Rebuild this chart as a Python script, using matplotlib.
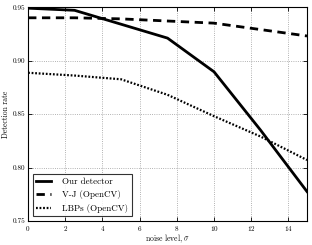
import matplotlib
matplotlib.use("Agg")
import matplotlib.pyplot as plt

plt.rcParams['font.family'] = 'serif'
plt.rcParams['font.serif'] = ['cmr10', 'DejaVu Serif']
plt.rcParams['mathtext.fontset'] = 'cm'
plt.rcParams['axes.formatter.use_mathtext'] = True

noise = [0, 2.5, 5, 7.5, 10, 12.5, 15]
ours = [0.949, 0.947, 0.934, 0.921, 0.8895, 0.835, 0.7775]
vj = [0.940, 0.940, 0.939, 0.937, 0.935, 0.929, 0.923]
lbp = [0.8886, 0.886, 0.8825, 0.868, 0.848, 0.829, 0.807]
labels = ['Our detector', 'V-J (OpenCV)', 'LBPs (OpenCV)']
xticks = [0, 2, 4, 6, 8, 10, 12, 14]
yticks = [0.75, 0.80, 0.85, 0.90, 0.95]

fig = plt.figure(figsize=(3.12, 2.45), dpi=100)
ax = fig.add_axes([0.09, 0.098, 0.894, 0.873])
ax.plot(noise, ours, color='black', lw=2.0, ls='-', label=labels[0])
ax.plot(noise, vj, color='black', lw=2.0, ls=(0, (3, 2)), label=labels[1])
ax.plot(noise, lbp, color='black', lw=1.6, ls=(0, (0.8, 0.8)), label=labels[2])
ax.set_xlim(0, 15)
ax.set_ylim(0.75, 0.95)
ax.set_xticks(xticks)
ax.set_yticks(yticks)
ax.set_yticklabels(['%.2f' % v for v in yticks])
ax.tick_params(direction='in', labelsize=5.2, length=3, width=0.6, colors='black',
               top=True, right=True, pad=2)
ax.grid(True, ls=':', color='#999999', lw=0.6)
for s in ax.spines.values():
    s.set_linewidth(0.8)
ax.set_xlabel(r'noise level, $\sigma$', fontsize=5.5, labelpad=0)
ax.set_ylabel('Detection rate', fontsize=5.5, labelpad=2)
leg = ax.legend(loc='lower left', fontsize=6.5, frameon=True, fancybox=False,
                edgecolor='black', handlelength=1.6, handletextpad=1.3,
                borderaxespad=0.5)
leg.get_frame().set_linewidth(0.8)
fig.savefig('out.png', dpi=100)
